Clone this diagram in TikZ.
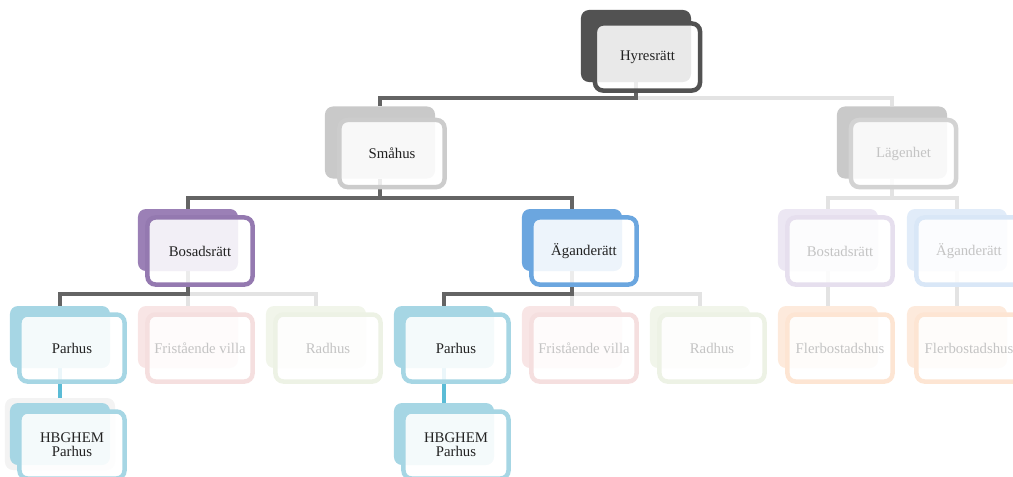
\documentclass[tikz,border=0pt]{standalone}
\usepackage{fontspec}
\setmainfont{Liberation Serif}
\usepackage{tikz}
\usetikzlibrary{positioning}
\definecolor{darkback}{RGB}{82, 82, 82}
\definecolor{grayback}{RGB}{201, 201, 201}
\definecolor{grayframe}{RGB}{204, 204, 204}
\definecolor{lagframe}{RGB}{211, 211, 211}
\definecolor{purple}{RGB}{155, 128, 182}
\definecolor{purpleframe}{RGB}{148, 121, 176}
\definecolor{blue}{RGB}{107, 166, 223}
\definecolor{cyan}{RGB}{166, 214, 228}
\definecolor{pink}{RGB}{248, 229, 229}
\definecolor{pinkframe}{RGB}{245, 223, 223}
\definecolor{green}{RGB}{241, 245, 234}
\definecolor{greenframe}{RGB}{237, 242, 229}
\definecolor{fpurple}{RGB}{236, 231, 243}
\definecolor{fpurpleframe}{RGB}{230, 223, 238}
\definecolor{fblue}{RGB}{225, 236, 249}
\definecolor{fblueframe}{RGB}{217, 231, 247}
\definecolor{peach}{RGB}{253, 234, 220}
\definecolor{peachframe}{RGB}{253, 229, 211}
\definecolor{linkdark}{RGB}{100, 100, 100}
\definecolor{linklight}{RGB}{227, 227, 227}
\definecolor{linkcyan}{RGB}{91, 188, 214}
\definecolor{halo}{RGB}{243, 243, 243}
\definecolor{ink}{RGB}{34, 34, 34}
\definecolor{faded}{RGB}{196, 196, 196}

\pgfdeclarelayer{bg}
\pgfsetlayers{bg,main}

\tikzset{
  backbig/.style={rounded corners=0.2cm, minimum width=2.75cm, minimum height=1.8cm, inner sep=0},
  backsmall/.style={rounded corners=0.2cm, minimum width=2.5cm, minimum height=1.55cm, inner sep=0},
  card/.style={draw, line width=3.2pt, rounded corners=0.2cm, minimum width=2.625cm,
    minimum height=1.675cm, fill=white, fill opacity=0.88, text opacity=1, text=ink,
    align=center, font=\fontsize{10.5}{10}\selectfont},
  link/.style={line width=3.5pt, color=linkdark},
  linkfade/.style={line width=3.5pt, color=linklight},
}

\begin{document}
\begin{tikzpicture}[x=0.025cm, y=-0.025cm]
  \clip (0, 0) rectangle (1013, 476);

  % level 0 and 1
  \node[backbig, fill=darkback] (hyresB) at (636, 46) {};
  \node[card, draw=darkback] (hyres) at (647.5, 57) {Hyresrätt};

  \node[backbig, fill=grayback] (smaB) at (380, 142.5) {};
  \node[card, draw=grayframe] (sma) at (392, 153.5) {Småhus};

  \node[backbig, fill=grayback] (lagB) at (892, 142.5) {};
  \node[card, draw=lagframe, text=faded] (lag) at (903.5, 153.5) {Lägenhet};

  % level 2
  \node[backsmall, fill=purple] (bosB) at (188, 240) {};
  \node[card, draw=purpleframe] (bos) at (200, 251) {Bosadsrätt};

  \node[backsmall, fill=blue] (aganB) at (572, 240) {};
  \node[card, draw=blue] (agan) at (584, 251) {Äganderätt};

  \node[backsmall, fill=fpurple] (bosRB) at (828, 240) {};
  \node[card, draw=fpurpleframe, text=faded] (bosR) at (840, 251) {Bostadsrätt};

  \node[backsmall, fill=fblue] (aganRB) at (957, 240) {};
  \node[card, draw=fblueframe, text=faded] (aganR) at (969, 251) {Äganderätt};

  % level 3
  \node[backsmall, fill=cyan] (parB) at (60, 337) {};
  \node[card, draw=cyan] (par) at (72, 348) {Parhus};
  \node[backsmall, fill=pink] (friB) at (188, 337) {};
  \node[card, draw=pinkframe, text=faded] (fri) at (200, 348) {Fristående villa};
  \node[backsmall, fill=green] (radB) at (316, 337) {};
  \node[card, draw=greenframe, text=faded] (rad) at (328, 348) {Radhus};

  \node[backsmall, fill=cyan] (par2B) at (444, 337) {};
  \node[card, draw=cyan] (par2) at (456, 348) {Parhus};
  \node[backsmall, fill=pink] (fri2B) at (572, 337) {};
  \node[card, draw=pinkframe, text=faded] (fri2) at (584, 348) {Fristående villa};
  \node[backsmall, fill=green] (rad2B) at (700, 337) {};
  \node[card, draw=greenframe, text=faded] (rad2) at (712, 348) {Radhus};

  \node[backsmall, fill=peach] (flerB) at (828, 337) {};
  \node[card, draw=peachframe, text=faded] (fler) at (840, 348) {Flerbostadshus};
  \node[backsmall, fill=peach] (fler2B) at (957, 337) {};
  \node[card, draw=peachframe, text=faded] (fler2) at (969, 348) {Flerbostadshus};

  % level 4
  \node[backbig, fill=halo] (hbgH) at (60, 434) {};
  \node[backsmall, fill=cyan] (hbgB) at (60, 434) {};
  \node[card, draw=cyan] (hbg) at (72, 445) {HBGHEM\\Parhus};
  \node[backsmall, fill=cyan] (hbg2B) at (444, 434) {};
  \node[card, draw=cyan] (hbg2) at (456, 445) {HBGHEM\\Parhus};

  % connectors
  \begin{pgfonlayer}{bg}
    \coordinate (bar0) at (636, 98);
    \draw[linkfade] (bar0) -| (lagB.north);
    \draw[link] (hyresB.south) -- (bar0) -| (smaB.north);

    \coordinate (bar1) at (380, 198);
    \draw[link] (smaB.south) -- (bar1) -| (bosB.north);
    \draw[link] (bar1) -| (aganB.north);

    \coordinate (bar1r) at (892, 198);
    \draw[linkfade] (lagB.south) -- (bar1r) -| (bosRB.north);
    \draw[linkfade] (bar1r) -| (aganRB.north);
    \draw[linkfade] (bosRB.south) -- (flerB.north);
    \draw[linkfade] (aganRB.south) -- (fler2B.north);

    \coordinate (bar2) at (188, 294);
    \draw[linkfade] (bar2) -- (friB.north);
    \draw[linkfade] (bar2) -| (radB.north);
    \draw[link] (bosB.south) -- (bar2) -| (parB.north);

    \coordinate (bar3) at (572, 294);
    \draw[linkfade] (bar3) -- (fri2B.north);
    \draw[linkfade] (bar3) -| (rad2B.north);
    \draw[link] (aganB.south) -- (bar3) -| (par2B.north);

    \draw[line width=3.5pt, linkcyan] (parB.south) -- (hbgH.north);
    \draw[line width=3.5pt, linkcyan] (par2B.south) -- (hbg2B.north);
  \end{pgfonlayer}
\end{tikzpicture}
\end{document}
